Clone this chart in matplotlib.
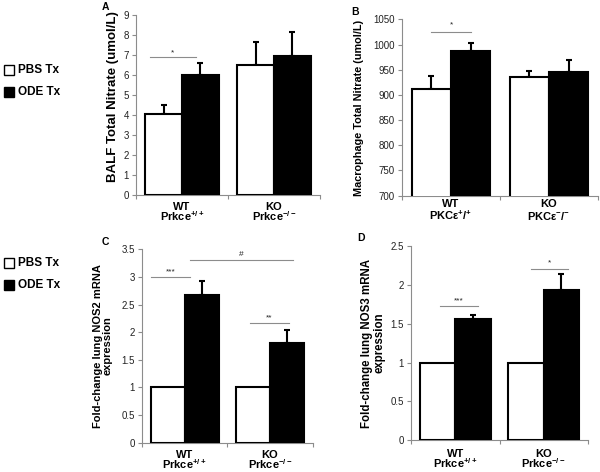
import matplotlib
matplotlib.use("Agg")
import matplotlib.pyplot as plt
from matplotlib.patches import Rectangle

plt.rcParams['font.family'] = ['Liberation Sans', 'DejaVu Sans']
plt.rcParams['mathtext.fontset'] = 'custom'
plt.rcParams['mathtext.rm'] = 'Liberation Sans:bold'
plt.rcParams['mathtext.it'] = 'Liberation Sans:bold'
plt.rcParams['mathtext.bf'] = 'Liberation Sans:bold'

# data
groups_a = ['WT', 'KO']
geno_a = ['Prkce$^{+/+}$', 'Prkce$^{-/-}$']
geno_b = ['PKCε$^{+}$/$^{+}$', 'PKCε$^{-}$/$^{-}$']

balf_pbs = [4.05, 6.5]
balf_pbs_err = [0.42, 1.15]
balf_ode = [6.0, 6.95]
balf_ode_err = [0.6, 1.2]

mac_pbs = [911, 935]
mac_pbs_err = [26, 13]
mac_ode = [988, 946]
mac_ode_err = [15, 24]

nos2_pbs = [1.0, 1.0]
nos2_ode = [2.68, 1.81]
nos2_ode_err = [0.24, 0.23]

nos3_pbs = [1.0, 1.0]
nos3_ode = [1.565, 1.94]
nos3_ode_err = [0.05, 0.2]

GRAY = '#8c8c8c'

fig = plt.figure(figsize=(6, 4.72), dpi=100)


def panel(rect, pbs, ode, pbs_err, ode_err, ylim, yticks, ticklabels, groups, geno, gap=(15, 26)):
    ax = fig.add_axes(rect)
    x = [0, 1]
    xl = [i - 0.2 for i in x]
    xr = [i + 0.2 for i in x]
    ax.bar(xl, pbs, width=0.4, color='white', edgecolor='black', linewidth=1.5, zorder=3)
    ax.bar(xr, ode, width=0.4, color='black', edgecolor='black', linewidth=1.5, zorder=3)
    if pbs_err is not None:
        ax.errorbar(xl, pbs, yerr=[[0, 0], pbs_err], fmt='none', ecolor='black',
                    elinewidth=1.5, capsize=2.5, capthick=1.5, zorder=2)
    ax.errorbar(xr, ode, yerr=[[0, 0], ode_err], fmt='none', ecolor='black',
                elinewidth=1.5, capsize=2.5, capthick=1.5, zorder=2)
    ax.set_xlim(-0.5, 1.5)
    ax.set_ylim(*ylim)
    ax.set_yticks(yticks)
    ax.set_yticklabels(ticklabels, fontsize=7, color='#222222')
    ax.set_xticks([-0.5, 0.5, 1.5])
    ax.set_xticklabels([])
    ax.tick_params(axis='x', which='major', length=3, color=GRAY, direction='out')
    ax.tick_params(axis='y', length=3, color=GRAY, direction='out', pad=2)
    # two rows of category text under the axis, placed by baseline
    trans = ax.get_xaxis_transform()
    for i in x:
        ax.annotate(groups[i], (i, 0), xycoords=trans, xytext=(0, -gap[0]),
                    textcoords='offset pixels', ha='center', va='baseline',
                    fontsize=8, fontweight='bold')
        ax.annotate(geno[i], (i, 0), xycoords=trans, xytext=(0, -gap[1]),
                    textcoords='offset pixels', ha='center', va='baseline',
                    fontsize=8, fontweight='bold')
    for s in ['top', 'right']:
        ax.spines[s].set_visible(False)
    for s in ['left', 'bottom']:
        ax.spines[s].set_color(GRAY)
        ax.spines[s].set_linewidth(0.8)
    return ax


def sig(ax, x0, x1, y, label, dy):
    ax.plot([x0, x1], [y, y], color=GRAY, linewidth=0.8, clip_on=False)
    ax.text((x0 + x1) / 2, y + dy, label, ha='center', va='center', fontsize=6, color='#222222')


# A
axa = panel([0.2267, 0.5869, 0.3067, 0.382], balf_pbs, balf_ode, balf_pbs_err, balf_ode_err,
            (0, 9), range(0, 10), [str(v) for v in range(0, 10)], groups_a, geno_a)
sig(axa, -0.35, 0.15, 6.87, '*', 0.2)

# B
yb = list(range(700, 1051, 50))
axb = panel([0.67, 0.5854, 0.3267, 0.3737], mac_pbs, mac_ode, mac_pbs_err, mac_ode_err,
            (700, 1050), yb, [str(v) for v in yb], groups_a, geno_b, gap=(11, 24))
sig(axb, -0.2, 0.2, 1024, '*', 14)

# C
yc = [0, 0.5, 1, 1.5, 2, 2.5, 3, 3.5]
axc = panel([0.2367, 0.0621, 0.2845, 0.4097], nos2_pbs, nos2_ode, None, nos2_ode_err,
            (0, 3.5), yc, ['0', '0.5', '1', '1.5', '2', '2.5', '3', '3.5'], groups_a, geno_a,
            gap=(15, 26))
sig(axc, -0.39, 0.06, 2.99, '***', 0.1)
sig(axc, 0.06, 1.27, 3.30, '#', 0.1)
sig(axc, 0.77, 1.22, 2.16, '**', 0.1)

# D
yd = [0, 0.5, 1, 1.5, 2, 2.5]
axd = panel([0.685, 0.0671, 0.295, 0.4117], nos3_pbs, nos3_ode, None, nos3_ode_err,
            (0, 2.5), yd, ['0', '0.5', '1', '1.5', '2', '2.5'], groups_a, geno_a,
            gap=(17, 28))
sig(axd, -0.17, 0.26, 1.73, '***', 0.07)
sig(axd, 0.86, 1.27, 2.21, '*', 0.07)

# y labels
fig.text(113 / 600, 1 - 97 / 472, 'BALF Total Nitrate (umol/L)', rotation=90,
         ha='center', va='center', fontsize=9.5, fontweight='bold')
fig.text(359 / 600, 1 - 108 / 472, 'Macrophage Total Nitrate (umol/L)', rotation=90,
         ha='center', va='center', fontsize=7.8, fontweight='bold')
fig.text(103 / 600, 1 - 346 / 472, 'Fold-change lung NOS2 mRNA\nexpression', rotation=90,
         ha='center', va='center', fontsize=8, fontweight='bold', linespacing=1.0)
fig.text(373 / 600, 1 - 343 / 472, 'Fold-change lung NOS3 mRNA\nexpression', rotation=90,
         ha='center', va='center', fontsize=8.3, fontweight='bold', linespacing=1.0)

# panel letters
for lab, px, py in [('A', 105, 7), ('B', 355, 12), ('C', 105, 242), ('D', 361, 238)]:
    fig.text(px / 600, 1 - py / 472, lab, ha='center', va='center', fontsize=7.5, fontweight='bold')

# legends
for cy in [70, 262.5]:
    for i, (name, fc) in enumerate([('PBS Tx', 'white'), ('ODE Tx', 'black')]):
        yy = cy + i * 22
        fig.patches.append(Rectangle((3.5 / 600, 1 - (yy + 5) / 472), 10 / 600, 10 / 472,
                                     transform=fig.transFigure, facecolor=fc,
                                     edgecolor='black', linewidth=1.0))
        fig.text(18 / 600, 1 - yy / 472, name, ha='left', va='center', fontsize=8.5, fontweight='bold')

fig.savefig('out.png', dpi=100)
